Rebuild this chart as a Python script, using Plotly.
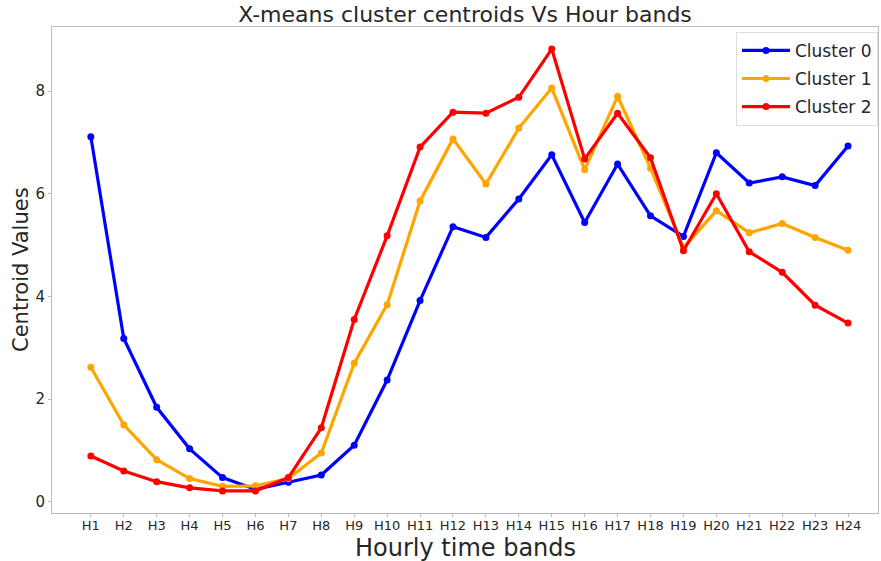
import plotly.graph_objects as go

hours = [f"H{i}" for i in range(1, 25)]

cluster_0 = [7.11, 3.18, 1.84, 1.03, 0.47, 0.24, 0.38, 0.52, 1.10, 2.37, 3.92, 5.36,
             5.15, 5.90, 6.76, 5.44, 6.58, 5.57, 5.17, 6.80, 6.21, 6.33, 6.16, 6.93]
cluster_1 = [2.62, 1.50, 0.82, 0.45, 0.30, 0.31, 0.45, 0.95, 2.70, 3.84, 5.86, 7.07,
             6.19, 7.28, 8.06, 6.47, 7.90, 6.50, 4.95, 5.67, 5.24, 5.42, 5.15, 4.90]
cluster_2 = [0.89, 0.60, 0.39, 0.27, 0.21, 0.21, 0.47, 1.44, 3.55, 5.18, 6.91, 7.59,
             7.57, 7.88, 8.82, 6.68, 7.57, 6.70, 4.89, 6.00, 4.87, 4.47, 3.83, 3.48]

series = [("Cluster 0", cluster_0, "#0000ff"),
          ("Cluster 1", cluster_1, "#ffa500"),
          ("Cluster 2", cluster_2, "#ff0000")]

FONT = "DejaVu Sans, sans-serif"
TEXT = "#262626"

fig = go.Figure()
for name, vals, color in series:
    fig.add_trace(go.Scatter(
        x=list(range(24)),
        y=vals,
        name=name,
        legendgroup=name,
        mode="lines+markers",
        line=dict(color=color, width=3.2),
        marker=dict(color=color, size=7),
    ))

fig.update_layout(
    width=881,
    height=561,
    paper_bgcolor="white",
    plot_bgcolor="white",
    font=dict(family=FONT, color=TEXT),
    margin=dict(l=52, r=3, t=27, b=48),
    title=dict(
        text="X-means cluster centroids Vs Hour bands",
        x=0.5, xanchor="center", xref="paper",
        y=1 - 14 / 561, yanchor="middle", yref="container",
        font=dict(size=22, color=TEXT),
        automargin=False,
    ),
    legend=dict(
        x=1.0, y=0.99, xanchor="right", yanchor="top",
        bgcolor="white", bordercolor="#dddddd", borderwidth=1,
        font=dict(size=17, color=TEXT),
        itemwidth=48,
        tracegroupgap=3,
    ),
    showlegend=True,
    annotations=[
        dict(text="Hourly time bands", xref="paper", yref="paper",
             x=0.5, y=0, yshift=-35, xanchor="center", yanchor="middle",
             showarrow=False, font=dict(size=24, color=TEXT)),
        dict(text="Centroid Values", xref="paper", yref="paper",
             x=0, y=0.5, xshift=-31, xanchor="center", yanchor="middle",
             textangle=-90, showarrow=False, font=dict(size=21, color=TEXT)),
    ],
)

fig.update_xaxes(
    tickmode="array",
    tickvals=list(range(24)),
    ticktext=hours,
    range=[-1.18, 23.91],
    automargin=False,
    showgrid=False,
    zeroline=False,
    showline=True, mirror=True, linecolor="#bbbbbb", linewidth=1,
    ticks="outside", ticklen=3, tickcolor="#bbbbbb",
    ticklabelstandoff=-3,
    tickfont=dict(size=13, color=TEXT),
)
fig.update_yaxes(
    tickvals=[0, 2, 4, 6, 8],
    range=[-0.22, 9.25],
    automargin=False,
    showgrid=False,
    zeroline=False,
    showline=True, mirror=True, linecolor="#bbbbbb", linewidth=1,
    ticks="outside", ticklen=3, tickcolor="#bbbbbb",
    tickfont=dict(size=15, color=TEXT),
)

# the page body has a default 8px margin; drop it so the figure fills the window
fig.write_html(
    "out.html",
    config={"displayModeBar": False},
    post_script="document.body.style.margin = '0';",
)
